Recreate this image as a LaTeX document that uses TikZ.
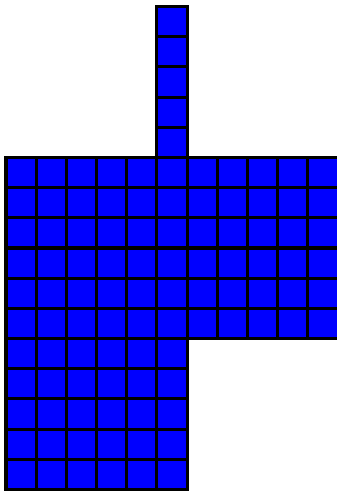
\documentclass[tikz,border=0pt]{standalone}
\begin{document}
\begin{tikzpicture}[
  cell/.style={draw=black,fill=blue,line width=1mm}
]
\useasboundingbox (-0.199,-0.116) rectangle (10.964,16.215);
% lower block
\foreach \r in {0,...,4}
  \foreach \c in {0,...,5}
    \draw[cell] (\c,\r) rectangle ++(1,1);
% wide block
\foreach \r in {5,...,10}
  \foreach \c in {0,...,10}
    \draw[cell] (\c,\r) rectangle ++(1,1);
% stem
\foreach \r in {11,...,15}
  \draw[cell] (5,\r) rectangle ++(1,1);
\end{tikzpicture}
\end{document}
